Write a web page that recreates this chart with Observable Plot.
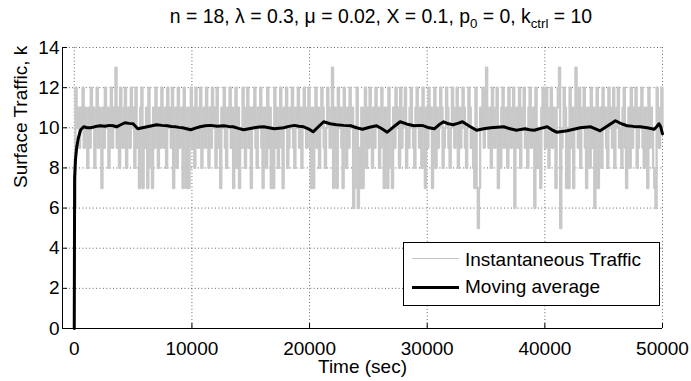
<!DOCTYPE html>
<html>
<head>
<meta charset="utf-8">
<script src="https://cdn.jsdelivr.net/npm/d3@7"></script>
<script src="https://cdn.jsdelivr.net/npm/@observablehq/plot@0.6"></script>
<style>
  body { margin: 0; background: #fff; font-family: "Liberation Sans", Arial, sans-serif; }
  #wrap { position: relative; width: 691px; height: 381px; overflow: hidden; }
  #title { position: absolute; left: 0; top: 5px; width: 762px; text-align: center; font-size: 19.4px; line-height: normal; color: #000; white-space: nowrap; }
  #title sub { font-size: 13.3px; vertical-align: -5px; line-height: 0; }
  #legend { position: absolute; left: 403px; top: 242px; width: 257px; height: 64px; box-sizing: border-box; border: 1px solid #000; background: #fff; }
  .lg-line { position: absolute; left: 8px; width: 47px; height: 0; }
  .lg-text { position: absolute; left: 61px; font-size: 19px; color: #000; white-space: nowrap; line-height: 20px; }
</style>
</head>
<body>
<div id="wrap">
  <div id="chart"></div>
  <div id="title">n = 18, λ = 0.3, μ = 0.02, X = 0.1, p<sub>0</sub> = 0, k<sub>ctrl</sub> = 10</div>
  <div id="legend">
    <div class="lg-line" style="top:15px;border-top:1px solid #c8c8c8;"></div>
    <div class="lg-text" style="top:7px;">Instantaneous Traffic</div>
    <div class="lg-line" style="top:43px;border-top:3px solid #000;"></div>
    <div class="lg-text" style="top:34px;">Moving average</div>
  </div>
</div>
<script>
// ---- data ----
const xTicks = [0, 10000, 20000, 30000, 40000, 50000];
const yTicks = [0, 2, 4, 6, 8, 10, 12, 14];
const xDomain = [-1000, 50000];
const yDomain = [0, 14];

// instantaneous surface traffic, one sample every 100 s (t = 0 ... 50000)
const instStep = 100;
const instK = [
  6, 12, 10, 11, 9, 11, 10, 12, 9, 11, 10, 8, 11, 9, 12, 10, 11, 8, 10, 12, 9, 11, 10, 7, 11,
  9, 12, 10, 11, 8, 10, 12, 9, 11, 10, 13, 9, 11, 8, 12, 10, 9, 11, 12, 8, 10, 11, 9, 12, 10,
  11, 8, 12, 9, 10, 7, 11, 12, 7, 10, 9, 11, 7, 12, 10, 8, 7, 11, 9, 12, 10, 8, 11, 9, 12,
  10, 9, 11, 8, 12, 10, 11, 9, 12, 7, 10, 11, 8, 12, 9, 10, 11, 7, 12, 10, 7, 11, 7, 10, 12,
  9, 11, 8, 12, 10, 9, 11, 12, 8, 10, 11, 9, 12, 10, 8, 11, 9, 12, 10, 11, 8, 12, 9, 10, 7,
  11, 10, 12, 9, 8, 11, 10, 12, 9, 11, 7, 10, 12, 8, 11, 7, 10, 9, 12, 11, 8, 10, 12, 9, 11,
  7, 11, 10, 12, 9, 8, 11, 10, 12, 9, 7, 11, 10, 8, 12, 9, 11, 7, 10, 7, 12, 9, 11, 8, 10,
  12, 9, 7, 11, 10, 12, 8, 9, 11, 10, 12, 9, 8, 11, 10, 12, 9, 11, 8, 10, 12, 11, 9, 10, 12,
  9, 7, 11, 7, 10, 12, 9, 11, 8, 10, 12, 11, 9, 8, 10, 12, 11, 9, 10, 13, 7, 11, 9, 7, 12,
  10, 11, 9, 7, 12, 10, 8, 11, 9, 12, 10, 11, 6, 7, 10, 12, 6, 9, 7, 11, 7, 10, 12, 8, 11,
  9, 12, 10, 8, 11, 9, 12, 10, 11, 8, 9, 12, 10, 7, 11, 9, 7, 12, 10, 8, 7, 11, 9, 12, 10,
  11, 8, 12, 9, 10, 11, 12, 8, 10, 9, 11, 12, 10, 9, 8, 11, 12, 10, 9, 11, 8, 12, 10, 7, 11,
  9, 12, 10, 11, 7, 10, 12, 8, 11, 9, 10, 12, 11, 8, 9, 10, 12, 11, 9, 8, 10, 12, 11, 9, 10,
  12, 8, 11, 9, 10, 12, 11, 9, 8, 10, 12, 11, 9, 10, 8, 7, 12, 7, 5, 7, 11, 10, 12, 9, 11,
  13, 10, 9, 11, 8, 12, 10, 9, 11, 12, 7, 10, 8, 11, 12, 9, 10, 11, 8, 12, 10, 9, 11, 12, 6,
  10, 11, 9, 12, 8, 10, 11, 12, 9, 10, 8, 11, 12, 9, 10, 11, 6, 12, 8, 10, 9, 7, 11, 12, 10,
  9, 12, 11, 8, 10, 12, 9, 11, 10, 7, 11, 12, 13, 5, 9, 10, 12, 11, 7, 10, 7, 12, 9, 11, 7,
  10, 13, 11, 9, 12, 8, 10, 11, 12, 9, 7, 11, 10, 8, 12, 9, 11, 6, 10, 12, 7, 9, 11, 8, 12,
  10, 11, 9, 8, 12, 10, 11, 9, 12, 8, 10, 11, 12, 9, 10, 8, 11, 12, 9, 7, 10, 11, 8, 12, 9,
  11, 10, 12, 8, 9, 11, 10, 12, 9, 8, 11, 10, 7, 12, 9, 11, 10, 8, 7, 6, 12, 11, 9, 10, 12,
  10
];

// moving average
const avgT = [0, 30, 100, 200, 350, 550, 800, 1100, 1400, 1800, 2200, 2600, 3000, 3300, 3600, 3950, 4300, 4650, 5000, 5400,
  5800, 6200, 6600, 7000, 7450, 7900, 8250, 8600, 8900, 9200, 9550, 9900, 10300, 10700, 11150, 11600, 12150, 12700, 13100, 13500,
  13950, 14400, 14850, 15300, 15700, 16100, 16550, 17000, 17400, 17800, 18250, 18700, 19100, 19500, 19900, 20300, 20750, 21200, 21750, 22300,
  22900, 23500, 24000, 24500, 25100, 25700, 26150, 26600, 27150, 27700, 28300, 28900, 29300, 29700, 30150, 30600, 31000, 31400, 31800, 32200,
  32600, 33000, 33600, 34200, 34800, 35400, 35950, 36500, 37050, 37600, 37950, 38300, 38700, 39100, 39650, 40200, 40600, 41000, 41450, 41900,
  42450, 43000, 43450, 43900, 44300, 44700, 45350, 46000, 46500, 47000, 47550, 48100, 48700, 49300, 49500, 49700, 49850, 50000];
const avgK = [0, 7.5, 8.4, 9.0, 9.5, 9.9, 10.05, 10.0, 10.0, 10.06, 10.1, 10.08, 10.12, 10.1, 10.05, 10.15, 10.25, 10.22, 10.2, 9.95,
  10.0, 10.05, 10.1, 10.15, 10.12, 10.1, 10.06, 10.05, 10.02, 10.0, 9.95, 9.9, 9.98, 10.05, 10.1, 10.12, 10.08, 10.1, 10.07, 10.05,
  9.97, 9.9, 9.95, 10.0, 10.04, 10.05, 10.0, 9.95, 9.98, 10.0, 10.07, 10.12, 10.08, 10.05, 9.95, 9.8, 10.05, 10.3, 10.2, 10.15,
  10.12, 10.1, 10.0, 9.93, 10.03, 10.1, 9.95, 9.78, 10.05, 10.3, 10.18, 10.1, 10.12, 10.1, 10.0, 9.95, 10.15, 10.3, 10.2, 10.15,
  10.22, 10.3, 10.08, 9.88, 9.95, 10.0, 10.03, 10.05, 9.95, 9.88, 9.92, 9.95, 9.9, 9.88, 9.97, 10.05, 9.9, 9.78, 9.82, 9.85,
  9.93, 10.0, 10.03, 10.05, 9.95, 9.85, 10.1, 10.35, 10.2, 10.1, 10.07, 10.05, 10.0, 9.93, 10.05, 10.2, 10.05, 9.7];

// ---- tables built from arrays ----
const inst = instK.map((k, i) => ({t: i * instStep, k}));
const avg = avgT.map((t, i) => ({t, k: avgK[i]}));

const W = 691, H = 381, mL = 62, mR = 29, mT = 47, mB = 53;
const plotW = W - mL - mR, plotH = H - mT - mB;
const gridStyle = {stroke: "#000", strokeOpacity: 0.6, strokeDasharray: "1,2.4"};

const chart = Plot.plot({
  width: W, height: H,
  marginLeft: mL, marginRight: mR, marginTop: mT, marginBottom: mB,
  style: {fontFamily: "'Liberation Sans', Arial, sans-serif", fontSize: "19px", color: "#000", background: "#fff", overflow: "visible"},
  x: {domain: xDomain, label: null},
  y: {domain: yDomain, label: null},
  marks: [
    Plot.gridX(xTicks, gridStyle),
    Plot.gridY(yTicks, gridStyle),
    Plot.line(inst, {x: "t", y: "k", stroke: "#c8c8c8", strokeWidth: 2.3, curve: "step-after"}),
    Plot.line(avg, {x: "t", y: "k", stroke: "#000", strokeWidth: 3, curve: "linear"}),
    Plot.ruleY([yDomain[0]], {stroke: "#000", strokeWidth: 1}),
    Plot.ruleX([xDomain[0]], {stroke: "#000", strokeWidth: 1}),
    Plot.tickX(xTicks, {stroke: "#000", insetTop: plotH - 5}),
    Plot.tickY(yTicks, {stroke: "#000", insetRight: plotW - 5}),
    Plot.axisX(xTicks, {tickSize: 0, tickPadding: 13, tickFormat: d => String(d), fontSize: 19, label: null}),
    Plot.axisY(yTicks, {tickSize: 0, tickPadding: 3, fontSize: 19, label: null}),
    Plot.text(["Time (sec)"], {frameAnchor: "bottom", dy: 44, dx: 0, fontSize: 19}),
    Plot.text(["Surface Traffic, k"], {frameAnchor: "left", rotate: -90, dx: -42, fontSize: 19})
  ]
});
document.getElementById("chart").appendChild(chart);
</script>
</body>
</html>
